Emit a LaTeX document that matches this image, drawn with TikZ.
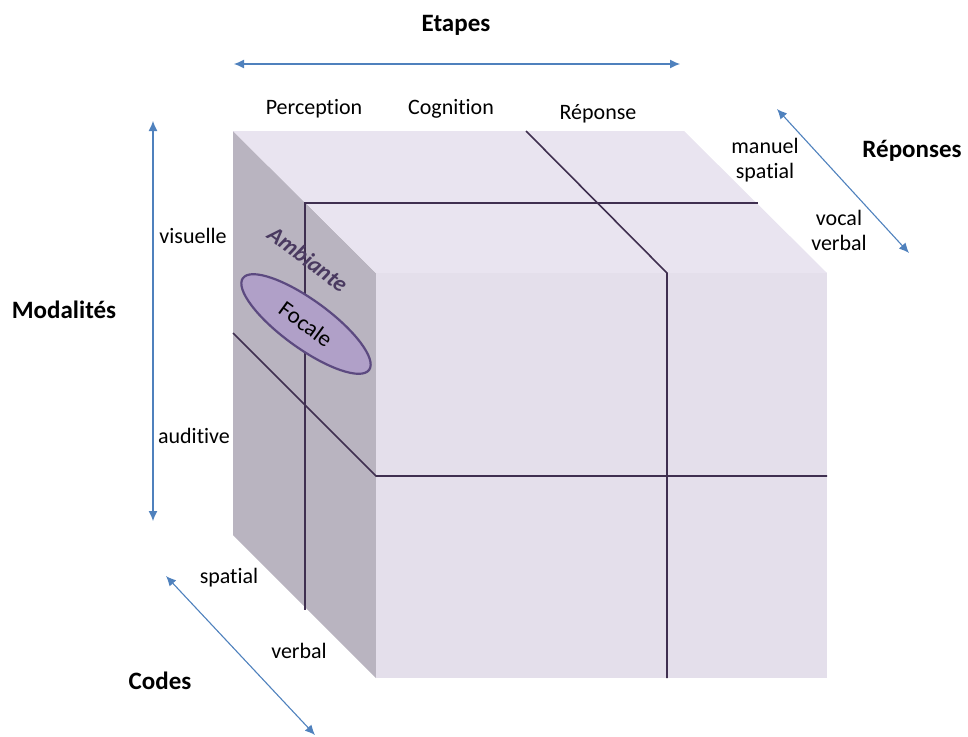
\documentclass[tikz,border=0pt]{standalone}
\usepackage{fontspec}
\setmainfont{Carlito}[Ligatures=NoCommon]
\usetikzlibrary{arrows.meta,shapes.geometric}
\definecolor{topc}{HTML}{E9E4F0}
\definecolor{frontc}{HTML}{E4DFEB}
\definecolor{sidec}{HTML}{B9B4C0}
\definecolor{linec}{HTML}{3F2F50}
\definecolor{arrc}{HTML}{4F81BD}
\definecolor{ellfill}{HTML}{B0A0C8}
\definecolor{elldraw}{HTML}{5C4A80}
\definecolor{ambc}{HTML}{4A3A60}
\tikzset{
  lbl/.style={font=\fontsize{22}{25}\selectfont, inner sep=0pt, align=center},
  title/.style={font=\fontsize{25}{27}\selectfont\bfseries, inner sep=0pt},
  gridline/.style={draw=linec, line width=1.6pt},
  axis/.style={draw=arrc, line width=1.1pt, {Latex[length=10pt,width=9pt]}-{Latex[length=10pt,width=9pt]}}
}
\begin{document}
\begin{tikzpicture}[x=1pt,y=-1pt]
\useasboundingbox (0,0) rectangle (968,736);
% cube faces
\fill[sidec] (233,131) -- (376,273) -- (376,678) -- (233,535) -- cycle;
\fill[topc] (233,131) -- (684,131) -- (827,273) -- (376,273) -- cycle;
\fill[frontc] (376,273) rectangle (827,678);
% grid lines
\draw[gridline] (526,131) -- (667,273) -- (667,678);
\draw[gridline] (758,203) -- (305,203) -- (305,610);
\draw[gridline] (233,333) -- (376,476) -- (827,476);
% ellipse and labels on side
\node[ellipse, draw=elldraw, fill=ellfill, line width=2.2pt, minimum width=156pt, minimum height=48pt, rotate=-36, font=\fontsize{23}{25}\selectfont, text=black, inner sep=0pt] (focale) at (306,324) {Focale};
\node[rotate=-37, font=\fontsize{23}{25}\selectfont\bfseries\itshape, text=ambc, inner sep=0pt] (ambiante) at (308,259) {Ambiante};
% arrows
\coordinate (e1) at (234,64); \coordinate (e2) at (680,64);
\draw[axis] (e1) -- (e2);
\coordinate (m1) at (153,121); \coordinate (m2) at (153,521);
\draw[axis] (m1) -- (m2);
\coordinate (r1) at (777,109); \coordinate (r2) at (909,253);
\draw[axis] (r1) -- (r2);
\coordinate (c1) at (166,576); \coordinate (c2) at (315,735);
\draw[axis] (c1) -- (c2);
% titles
\node[title] (etapes) at (456,25) {Etapes};
\node[title] (modalites) at (64,310) {Modalités};
\node[title] (reponses) at (912,151) {Réponses};
\node[title] (codes) at (160,681) {Codes};
% labels
\node[lbl] (perception) at (314,109) {Perception};
\node[lbl] (cognition) at (451,109) {Cognition};
\node[lbl] (reponse) at (598,114) {Réponse};
\node[lbl] (manuel) at (765,160) {manuel\\spatial};
\node[lbl] (vocal) at (839,230) {vocal\\verbal};
\node[lbl] (visuelle) at (193,236) {visuelle};
\node[lbl] (auditive) at (194,436) {auditive};
\node[lbl] (spatial) at (229,578) {spatial};
\node[lbl] (verbal) at (299,651) {verbal};
\end{tikzpicture}
\end{document}
